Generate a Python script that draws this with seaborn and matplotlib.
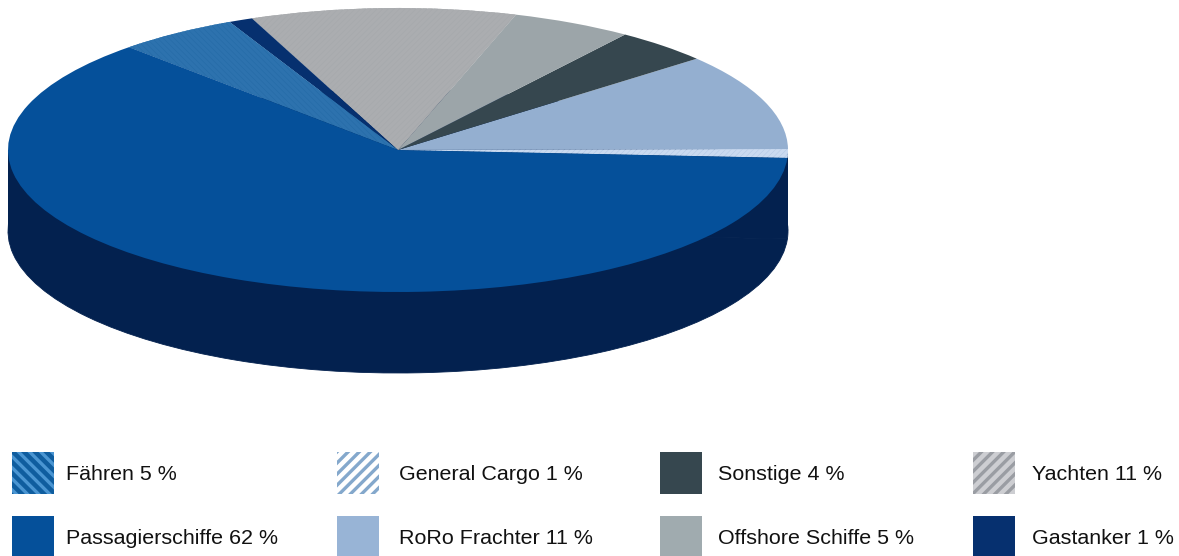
import matplotlib
matplotlib.use("Agg")
import matplotlib.pyplot as plt
from matplotlib.patches import Patch
import seaborn as sns

sns.set_theme(style="white")
plt.rcParams["font.family"] = ["Liberation Sans", "DejaVu Sans"]
plt.rcParams["hatch.linewidth"] = 2.4

# Slices in drawing order, counterclockwise
labels = ["General Cargo", "RoRo Frachter", "Sonstige", "Offshore Schiffe",
          "Yachten", "Gastanker", "Fähren", "Passagierschiffe"]
shares = [1, 11, 4, 5, 11, 1, 5, 62]
pie_colors = ["#B5CAE6", "#94AFD0", "#36474F", "#9CA5A9",
              "#A6A9AC", "#06306F", "#256BA7", "#05509A"]
pie_hatch_colors = ["#CADAF0", None, None, None, "#ABADB0", None, "#2D72AE", None]
pie_hatches = ["//////", None, None, None, "//////", None, "\\\\\\\\\\\\", None]

# Legend columns, reading top to bottom
legend_columns = [["Fähren", "Passagierschiffe"],
                  ["General Cargo", "RoRo Frachter"],
                  ["Sonstige", "Offshore Schiffe"],
                  ["Yachten", "Gastanker"]]
legend_style = {
    "Fähren": ("#0F5D9F", "#4A95D2", "\\\\\\"),
    "Passagierschiffe": ("#05509A", "#05509A", None),
    "General Cargo": ("#FFFFFF", "#84A8CC", "///"),
    "RoRo Frachter": ("#98B4D6", "#98B4D6", None),
    "Sonstige": ("#36474F", "#36474F", None),
    "Offshore Schiffe": ("#A0ABAF", "#A0ABAF", None),
    "Yachten": ("#CDCED2", "#9A9DA3", "///"),
    "Gastanker": ("#06306F", "#06306F", None),
}
wall_color = "#03214F"

W, H = 1179, 556
cx, cy, rx, ry, wall = 398, 150, 390, 142, 81
start = -3.2

fig = plt.figure(figsize=(W / 100, H / 100), dpi=100, facecolor="white")
ax = fig.add_axes([0, 0, 1, 1])
depth = wall / ry

# Side wall: lower disc plus the band that joins it to the top disc
ax.pie(shares, colors=[wall_color] * len(shares), startangle=start, radius=1,
       center=(0, -depth), wedgeprops={"linewidth": 0.6, "edgecolor": wall_color})
ax.bar(0, depth, width=2, bottom=-depth, color=wall_color, linewidth=0, zorder=0.5)

wedges, _ = ax.pie(shares, colors=pie_colors, startangle=start, radius=1,
                   center=(0, 0), wedgeprops={"linewidth": 0})
for w, hatch, hatch_color in zip(wedges, pie_hatches, pie_hatch_colors):
    w.set_zorder(3)
    if hatch:
        w.set_hatch(hatch)
        w.set_edgecolor(hatch_color)

ax.set_aspect("auto")
ax.set_xlim(-cx / rx, (W - cx) / rx)
ax.set_ylim(-(H - cy) / ry, cy / ry)
ax.axis("off")

fs_px = 21.45
col_x = [12, 337, 660, 973]
text_gap = [12, 20, 16, 17]
for names, x0, gap in zip(legend_columns, col_x, text_gap):
    handles = []
    for n in names:
        fc, ec, h = legend_style[n]
        handles.append(Patch(facecolor=fc, edgecolor=ec, hatch=h, linewidth=0))
    texts = [f"{n} {shares[labels.index(n)]} %" for n in names]
    fig.legend(handles, texts, loc="upper left",
               bbox_to_anchor=(x0 / W, 1 - 452 / H), bbox_transform=fig.transFigure,
               frameon=False, fontsize=15.45, borderaxespad=0, borderpad=0,
               handlelength=42 / fs_px, handleheight=2.64,
               handletextpad=gap / fs_px, labelspacing=22 / fs_px,
               labelcolor="#111111")

fig.savefig("out.png", dpi=100)
